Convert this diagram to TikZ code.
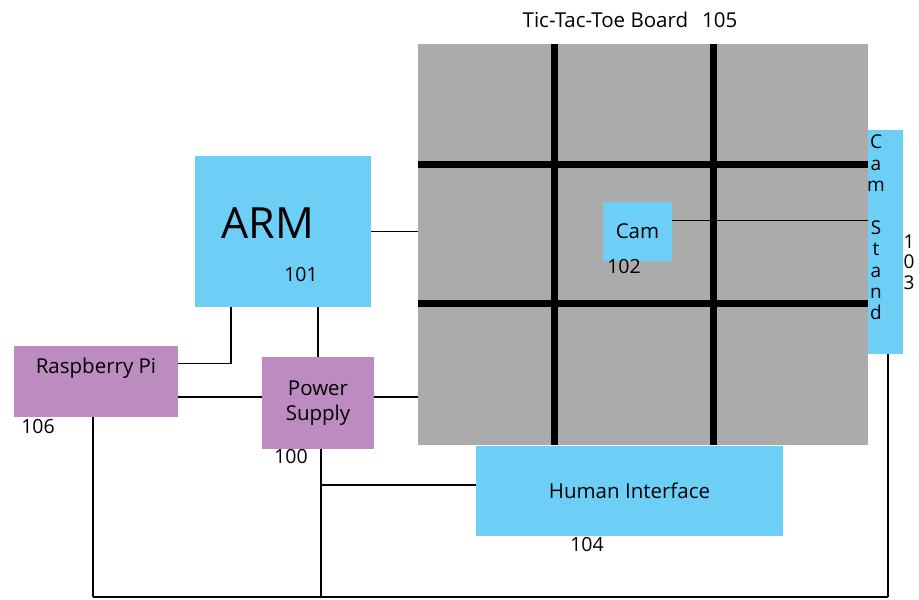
\documentclass[tikz,border=0pt]{standalone}
\usepackage{fontspec}
\setmainfont{Open Sans}
\usetikzlibrary{positioning}
\definecolor{camblue}{HTML}{6DCFF6}
\definecolor{pipurple}{HTML}{BC8BBF}
\definecolor{boardgray}{HTML}{ABABAB}
\tikzstyle{bluebox} = [fill=camblue, inner sep=0pt, font=\fontsize{20.5}{24}\selectfont]
\tikzstyle{purplebox} = [fill=pipurple, inner sep=0pt, align=center, font=\fontsize{20.5}{25}\selectfont]
\tikzstyle{num} = [inner sep=0pt, font=\fontsize{19.5}{22}\selectfont]
\tikzstyle{wire} = [line width=1.6pt]
\tikzstyle{gridline} = [line width=7pt]

\begin{document}
\begin{tikzpicture}[x=1pt,y=-1pt]
    \useasboundingbox (0,0) rectangle (919,600);

    % Board with its grid
    \node[fill=boardgray, minimum width=450pt, minimum height=401pt, inner sep=0pt] (board) at (643,244.5) {};
    \draw[gridline] (554,44) -- (554,445);
    \draw[gridline] (713,44) -- (713,445);
    \draw[gridline] (418,164) -- (868,164);
    \draw[gridline] (418,303) -- (868,303);
    \node[num, font=\fontsize{20.5}{24}\selectfont] (title) at (630,20) {Tic-Tac-Toe Board\hspace{14pt}105};

    % Nodes (boxes)
    \node[bluebox, minimum width=176pt, minimum height=151pt] (arm) at (283,231.5) {};
    \node[inner sep=0pt, font=\fontsize{43}{48}\selectfont] (armtext) at (268,223) {ARM};
    \node[bluebox, minimum width=69pt, minimum height=59pt] (cam) at (637.5,231.5) {Cam};
    \node[bluebox, minimum width=35pt, minimum height=224pt] (stand) at (885.5,242) {};
    \node[inner sep=0pt, align=center, font=\fontsize{19}{21.4}\selectfont] (standtext) at (876,227.5) {C\\a\\m\\~\\S\\t\\a\\n\\d};
    \node[bluebox, minimum width=307pt, minimum height=90pt] (hmi) at (629.5,491) {Human Interface};
    \node[purplebox, minimum width=164pt, minimum height=71pt] (rpi) at (96,381.5) {Raspberry Pi\\[6pt]};
    \node[purplebox, minimum width=112pt, minimum height=92pt] (ps) at (318,403) {Power\\Supply};

    % Numbers
    \node[num] (n100) at (291,457) {100};
    \node[num] (n101) at (301,275) {101};
    \node[num] (n102) at (624,267) {102};
    \node[num, align=center, font=\fontsize{19}{20.5}\selectfont] (n103) at (909,262) {1\\0\\3};
    \node[num] (n104) at (587,545) {104};
    \node[num] (n106) at (38,427) {106};

    % Edges (wires)
    \coordinate (busleft) at (93,597);
    \coordinate (busright) at (888,597);
    \draw[wire] (arm.east) -- (arm.east -| board.west);
    \draw[wire] ([xshift=-52pt]arm.south) |- ([yshift=18pt]rpi.east);
    \draw[wire] (arm.south -| ps.north) -- (ps.north);
    \draw[wire] ([yshift=-15.5pt]rpi.east) -- ([yshift=-15.5pt]rpi.east -| ps.west);
    \draw[wire] ([yshift=6pt]ps.east) -- ([yshift=6pt]ps.east -| board.west);
    \draw[line width=2.4pt] ([xshift=3pt]ps.south) -- ([xshift=3pt]ps.south |- busleft);
    \draw[wire] ([xshift=3pt,yshift=6pt]hmi.west -| ps.south) -- ([yshift=6pt]hmi.west);
    \draw[line width=1pt] ([yshift=11.5pt]cam.east) -- ([yshift=11.5pt]cam.east -| stand.west);
    \draw[wire] (rpi.south -| busleft) -- (busleft);
    \draw[wire] (stand.south -| busright) -- (busright);
    \draw[wire] (busleft) -- (busright);
\end{tikzpicture}
\end{document}
